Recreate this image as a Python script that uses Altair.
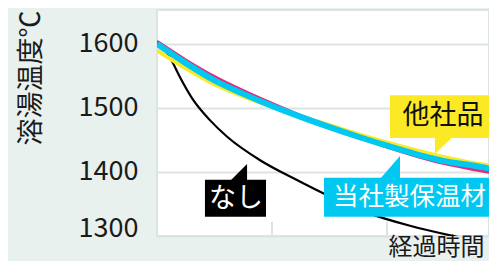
import altair as alt
import pandas as pd

FONT = "Noto Sans CJK JP"

# elapsed time (grid units) and melt temperature (°C)
t = [0, 0.25, 0.5, 0.75, 1.0, 1.25, 1.5, 1.75, 2.0, 2.25, 2.5, 2.75, 2.9]
ours = [1600, 1570, 1543, 1522, 1503, 1486, 1470, 1455, 1441, 1428, 1417, 1410, 1405]
other_yellow = [1590, 1562, 1537, 1518, 1502, 1487, 1473, 1459, 1446, 1434, 1423, 1414, 1410]
other_magenta = [1604, 1575, 1549, 1527, 1507, 1488, 1470, 1454, 1439, 1425, 1413, 1404, 1399]
t_none = [0, 0.06, 0.13, 0.2, 0.313, 0.46, 0.61, 0.9, 1.2, 1.5, 1.85, 2.2, 2.55, 2.9]
none = [1600, 1592, 1573, 1548, 1513, 1481, 1455, 1418, 1389, 1362, 1335, 1316, 1301, 1288]

y_ticks = [1300, 1400, 1500, 1600]
x_minor = [1, 2]

# annotation labels (data coordinates)
ann_text = ["他社品", "当社製保温材", "なし"]
ann_x = [2.487, 1.53, 0.687]
ann_y = [1487, 1361, 1358]
ann_align = ["center", "left", "center"]
ann_size = [27, 25.5, 27]
ann_fill = ["#fbe925", "#00c8f0", "#000000"]
ann_color = ["#111111", "#ffffff", "#ffffff"]
box_x = [2.026, 1.452, 0.417]
box_x2 = [2.922, 2.95, 0.948]
box_y = [1520, 1391, 1388]
box_y2 = [1453, 1330, 1330]
tri_x = [2.491, 2.026, 0.709]
tri_y = [1440, 1407, 1399]
tri_shape = ["M-1,-1L1,-1L-1,0.88Z", "M-0.87,1L0.87,1L0.87,-1Z", "M-1,1L1,1L1,-1Z"]
tri_size = [289, 529, 289]

xscale = alt.Scale(domain=[0, 2.887], nice=False, zero=False)
yscale = alt.Scale(domain=[1300, 1653], nice=False, zero=False)

xaxis = alt.Axis(labels=False, ticks=False, domain=False, grid=False,
                 title="経過時間", titleFont=FONT, titleFontSize=24,
                 titleFontWeight="normal", titleColor="#1a1a1a",
                 titleX=231, titleY=11, titleAlign="left", titleBaseline="middle")
yaxis = alt.Axis(values=y_ticks, format="d", grid=True, gridColor="#dce4e1", gridWidth=2,
                 domain=False, ticks=False, tickSize=0, labelPadding=19,
                 labelFont=FONT, labelFontSize=27, labelColor="#1a1a1a",
                 labelBaseline={"expr": "datum.value == 1300 ? 'alphabetic' : 'middle'"},
                 title="溶湯温度℃", titleFont=FONT, titleFontSize=27,
                 titleFontWeight="normal", titleColor="#1a1a1a",
                 titleAngle=270, titleX=-126, titleY=67.5,
                 titleAlign="center", titleBaseline="middle")


def X(f):
    return alt.X(f, type="quantitative", scale=xscale, axis=xaxis)


def Y(f):
    return alt.Y(f, type="quantitative", scale=yscale, axis=yaxis)


def line(xs, vs, color, width):
    d = pd.DataFrame({"t": xs, "v": vs})
    return alt.Chart(d).mark_line(clip=True, interpolate="monotone", color=color,
                                  strokeWidth=width, strokeCap="butt").encode(
        x=X("t"), y=Y("v"))


ticks_df = pd.DataFrame({"t": x_minor, "v": [1300] * len(x_minor), "v2": [1322] * len(x_minor)})
ticks = alt.Chart(ticks_df).mark_rule(color="#dce4e1", strokeWidth=2).encode(
    x=X("t"), y=Y("v"), y2="v2")

ann = pd.DataFrame({"text": ann_text, "x": ann_x, "y": ann_y, "align": ann_align,
                    "fs": ann_size,
                    "fill": ann_fill, "color": ann_color, "bx": box_x, "bx2": box_x2,
                    "by": box_y, "by2": box_y2, "tx": tri_x, "ty": tri_y,
                    "shape": tri_shape, "size": tri_size})

boxes = alt.Chart(ann).mark_rect().encode(
    x=X("bx"), x2="bx2", y=Y("by"), y2="by2",
    fill=alt.Fill("fill:N", scale=None))

tris = alt.Chart(ann).mark_point(filled=True, opacity=1, strokeWidth=0).encode(
    x=X("tx"), y=Y("ty"),
    shape=alt.Shape("shape:N", scale=None),
    size=alt.Size("size:Q", scale=None),
    fill=alt.Fill("fill:N", scale=None))

labels_left = alt.Chart(ann[ann["align"] == "left"]).mark_text(
    font=FONT, align="left", baseline="middle").encode(
    x=X("x"), y=Y("y"), text="text:N", fill=alt.Fill("color:N", scale=None),
    size=alt.Size("fs:Q", scale=None))
labels_center = alt.Chart(ann[ann["align"] == "center"]).mark_text(
    font=FONT, align="center", baseline="middle").encode(
    x=X("x"), y=Y("y"), text="text:N", fill=alt.Fill("color:N", scale=None),
    size=alt.Size("fs:Q", scale=None))

chart = alt.layer(
    ticks,
    line(t_none, none, "#000000", 2.2),
    line(t, other_yellow, "#fbe925", 4),
    line(t, other_magenta, "#e5287c", 3),
    line(t, ours, "#00c8f0", 6),
    boxes, tris, labels_left, labels_center,
).properties(
    width=332, height=226,
    autosize=alt.AutoSizeParams(type="none"),
    padding={"left": 149, "top": 2, "right": 0, "bottom": 25},
    background="#e9f1ee",
).configure_view(
    fill="#ffffff", stroke="#dce4e1", strokeWidth=2
)

chart.save("out.html", embed_options={"renderer": "svg", "actions": False})
